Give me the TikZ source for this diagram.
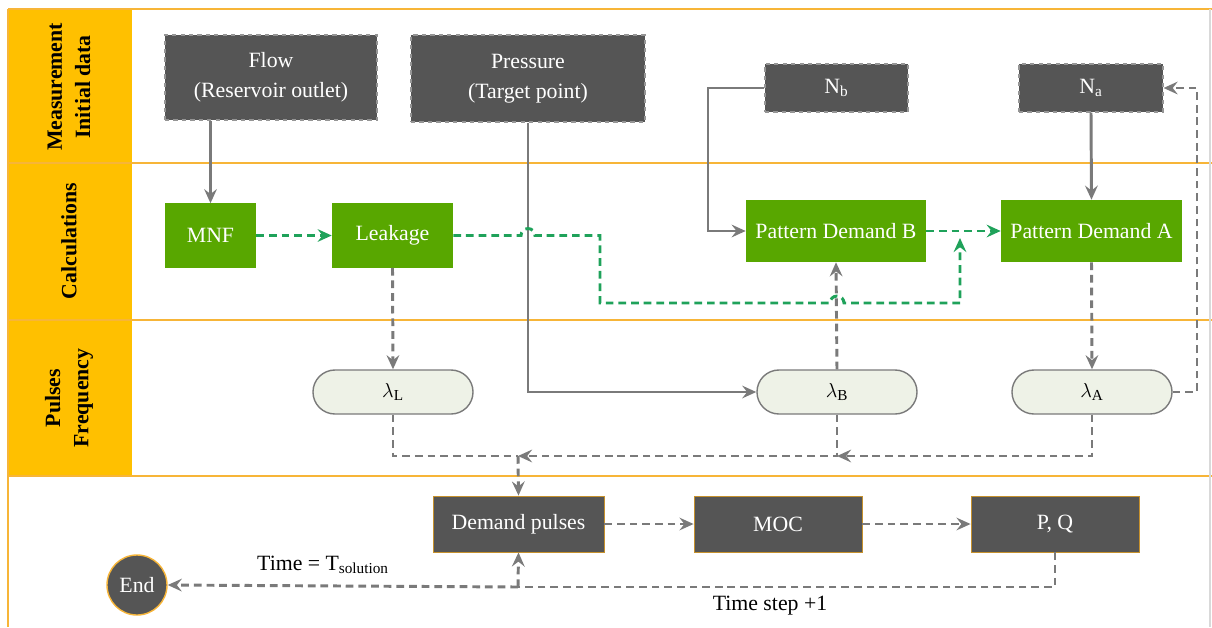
\documentclass[tikz,border=0pt]{standalone}
\usepackage{fontspec}
\setmainfont{Liberation Serif}
\usetikzlibrary{arrows.meta}

\definecolor{bandorange}{HTML}{FFC000}
\definecolor{lineorange}{HTML}{F7B538}
\definecolor{boxgray}{HTML}{555555}
\definecolor{calcgreen}{HTML}{58A700}
\definecolor{linkgreen}{HTML}{1FA25A}
\definecolor{arrowgray}{HTML}{7A7A7A}
\definecolor{pillfill}{HTML}{EEF2E7}

\begin{document}
\begin{tikzpicture}[x=0.025cm, y=-0.025cm,
    font=\fontsize{15.5}{21}\selectfont,
    >={Stealth[length=10pt,width=9pt,inset=3.5pt]},
    measbox/.style={rectangle, fill=boxgray, draw=arrowgray!80, dashed, line width=0.8pt, text=white, align=center, inner sep=0pt},
    calcbox/.style={rectangle, fill=calcgreen, text=white, inner sep=0pt, minimum height=1.6cm},
    pulsebox/.style={rectangle, rounded corners=0.55cm, fill=pillfill, draw=arrowgray, line width=1pt, minimum width=4cm, minimum height=1.1cm},
    runbox/.style={rectangle, fill=boxgray, draw=lineorange!80!black, line width=0.6pt, text=white, minimum width=4.2cm, minimum height=1.4cm},
    solidline/.style={arrowgray, line width=2.1pt},
    grayline/.style={arrowgray, line width=2.1pt, dash pattern=on 5.5pt off 3.5pt},
    greenline/.style={linkgreen, line width=2.1pt, dash pattern=on 5.5pt off 3.5pt},
    bandline/.style={lineorange, line width=1.8pt}]
    \useasboundingbox (0,0) rectangle (1212,627);

    % lanes
    \fill[bandorange] (8,9) rectangle (132,476);  % header column
    \draw[bandline] (8,9) -- (1212,9);
    \draw[bandline] (8,163) -- (1212,163);
    \draw[bandline] (8,320) -- (1212,320);
    \draw[bandline] (8,476) -- (1212,476);
    \draw[bandline] (8,9) -- (8,627);
    \draw[black!15, line width=0.8pt] (1210,9) -- (1210,627);
    \node[rotate=90, align=center, font=\fontsize{15.5}{20}\selectfont\bfseries] (hmeas) at (69,87) {Measurement\\Initial data};
    \node[rotate=90, font=\fontsize{15.5}{20}\selectfont\bfseries] (hcalc) at (69,241) {Calculations};
    \node[rotate=90, align=center, font=\fontsize{15.5}{20}\selectfont\bfseries] (hpuls) at (69,398) {Pulses\\Frequency};

    % measurement
    \node[measbox, minimum width=5.3cm, minimum height=2.125cm] (flow) at (271,77.5) {Flow\\(Reservoir outlet)};
    \node[measbox, minimum width=5.85cm, minimum height=2.175cm] (press) at (528,78.5) {Pressure\\(Target point)};
    \node[measbox, minimum width=3.575cm, minimum height=1.2cm] (nb) at (836.5,88) {N\textsubscript{b}};
    \node[measbox, minimum width=3.6cm, minimum height=1.2cm] (na) at (1091,88) {N\textsubscript{a}};

    % calculations
    \node[calcbox, minimum width=2.275cm] (mnf) at (210.5,235.5) {MNF};
    \node[calcbox, minimum width=3.025cm] (leak) at (392.5,235.5) {Leakage};
    \node[calcbox, minimum width=4.5cm, minimum height=1.55cm] (pdb) at (836,231) {Pattern Demand B};
    \node[calcbox, minimum width=4.525cm, minimum height=1.55cm] (pda) at (1091.5,231) {Pattern Demand A};

    % pulses
    \node[pulsebox] (laml) at (393,392) {$\lambda_{\mathrm{L}}$};
    \node[pulsebox] (lamb) at (837,392) {$\lambda_{\mathrm{B}}$};
    \node[pulsebox] (lama) at (1092,392) {$\lambda_{\mathrm{A}}$};

    % run
    \node[runbox, minimum width=4.275cm] (dp) at (518.5,524) {Demand pulses};
    \node[runbox] (moc) at (778,524) {MOC};
    \node[runbox] (pq) at (1055,524) {P, Q};
    \node[circle, fill=boxgray, draw=lineorange, line width=1pt, text=white, minimum size=1.5cm, inner sep=0pt] (endn) at (137,585) {End};
    \node (tsol) at (323,565) {Time = T\textsubscript{solution}};
    \node (tstep) at (770,606) {Time step +1};

    \coordinate (gjoin) at (960,238);
    \coordinate (mjoin) at (518,456);
    \coordinate (ljoin) at (518,587);

    % solid links
    \draw[solidline, ->] (flow.south -| mnf.north) -- (mnf.north);
    \draw[solidline, ->] (press.south) |- (lamb.west);
    \draw[solidline, ->] (nb.west) -- (708,88) |- (pdb.west);
    \draw[solidline, ->] (na.south) -- (pda.north);

    % green links
    \draw[greenline, ->] (mnf.east) -- (leak.west);
    \draw[greenline, ->] (pdb.east) -- (pda.west);
    \draw[greenline, ->] (leak.east) -- (521,235.5) arc (180:360:7) -- (600,235.5) -- (600,303) -- (830,303) arc (180:360:7) -- (960,303) -- (gjoin);

    % gray links
    \draw[grayline, ->] (leak.south) -- (laml.north);
    \draw[grayline, ->] (pda.south) -- (lama.north);
    \draw[grayline, ->] (lamb.north) -- (pdb.south);
    \draw[grayline, ->] (lama.east) -- (1197,392) -- (1197,88) -- (na.east);
    \draw[grayline] (laml.south) |- (mjoin);
    \draw[grayline, ->] (lama.south) |- (lamb.south |- mjoin);
    \draw[grayline, ->] (lamb.south) |- (mjoin);
    \draw[grayline, ->] (mjoin) -- (dp.north);
    \draw[grayline, ->] (dp.east) -- (moc.west);
    \draw[grayline, ->] (moc.east) -- (pq.west);
    \draw[grayline] (pq.south) |- (ljoin);
    \draw[grayline, ->] (ljoin) -- (dp.south);
    \draw[grayline, ->] (ljoin) -- (endn.east);
\end{tikzpicture}
\end{document}
